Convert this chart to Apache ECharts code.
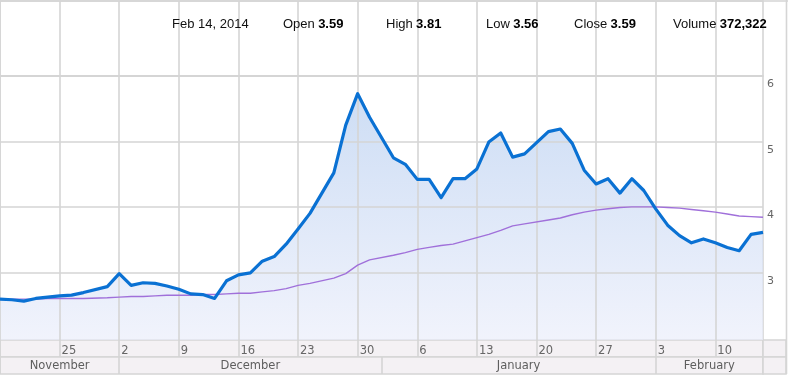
<!DOCTYPE html>
<html><head><meta charset="utf-8">
<script src="https://cdn.jsdelivr.net/npm/echarts/dist/echarts.min.js"></script>
<style>html,body{margin:0;padding:0;background:#fff}#c{width:788px;height:377px}</style>
</head><body><div id="c"></div>
<script>
// ---- data ----
const dates = [
 '2013-11-18','2013-11-19','2013-11-20','2013-11-21','2013-11-22',
 '2013-11-25','2013-11-26','2013-11-27','2013-11-28','2013-11-29',
 '2013-12-02','2013-12-03','2013-12-04','2013-12-05','2013-12-06',
 '2013-12-09','2013-12-10','2013-12-11','2013-12-12','2013-12-13',
 '2013-12-16','2013-12-17','2013-12-18','2013-12-19','2013-12-20',
 '2013-12-23','2013-12-24','2013-12-25','2013-12-26','2013-12-27',
 '2013-12-30','2013-12-31','2014-01-01','2014-01-02','2014-01-03',
 '2014-01-06','2014-01-07','2014-01-08','2014-01-09','2014-01-10',
 '2014-01-13','2014-01-14','2014-01-15','2014-01-16','2014-01-17',
 '2014-01-20','2014-01-21','2014-01-22','2014-01-23','2014-01-24',
 '2014-01-27','2014-01-28','2014-01-29','2014-01-30','2014-01-31',
 '2014-02-03','2014-02-04','2014-02-05','2014-02-06','2014-02-07',
 '2014-02-10','2014-02-11','2014-02-12','2014-02-13','2014-02-14'
];
const closeValues = [
 2.59,2.58,2.56,2.60,2.62, 2.64,2.65,2.69,null,2.78,
 2.98,2.80,2.84,2.83,2.79, 2.74,2.67,2.66,2.60,2.87,
 2.96,2.99,3.17,3.24,3.43, 3.66,3.90,null,4.52,5.25,
 5.73,5.37,null,4.75,4.65, 4.42,4.42,4.14,4.43,4.43,
 4.58,4.99,5.13,4.76,4.81, null,5.15,5.19,4.97,4.56,
 4.35,4.43,4.21,4.43,4.25, 3.97,3.72,3.56,3.45,3.51,
 3.45,3.38,3.33,3.58,3.61
];
const movingAvg = [
 2.59,2.59,2.59,2.59,2.60, 2.60,2.60,2.60,null,2.61,
 2.62,2.63,2.63,2.64,2.65, 2.65,2.65,2.66,2.66,2.67,
 2.68,2.68,2.70,2.72,2.75, 2.80,2.83,null,2.91,2.98,
 3.11,3.19,null,3.26,3.30, 3.35,3.38,3.41,3.43,3.48,
 3.53,3.58,3.64,3.71,3.74, null,3.80,3.83,3.88,3.92,
 3.95,3.97,3.99,4.00,4.00, 4.00,3.99,3.98,3.96,3.94,
 3.92,3.89,3.86,3.85,3.84
];
const yTickValues = [3, 4, 5, 6];
const monthNames = ['November', 'December', 'January', 'February'];
const monthStarts = ['2013-11-18', '2013-12-02', '2014-01-01', '2014-02-03'];
const headerDate = 'Feb 14, 2014';
const headerLabels = ['Open', 'High', 'Low', 'Close', 'Volume'];
const headerValues = ['3.59', '3.81', '3.56', '3.59', '372,322'];

// ---- helpers ----
const GRID = '#d5d5d5';
const ROWBG = '#f4f1f4';
const LABEL_FONT = '"DejaVu Sans", Verdana, sans-serif';
const isMonday = (v) => new Date(v + 'T00:00:00Z').getUTCDay() === 1;
const mondayIdx = (i) => isMonday(dates[i]);
const mondayLabelIdx = (i) => i > 0 && isMonday(dates[i]);
const monthStartIdx = monthStarts.map(d => dates.indexOf(d));
const isMonthStart = (i) => monthStartIdx.indexOf(i) >= 0;
const monthCells = monthNames.map((n, i) => [monthStartIdx[i], i + 1 < monthStartIdx.length ? monthStartIdx[i + 1] : dates.length - 1, 0]);

function catAxis(gridIndex, extra) {
  return Object.assign({
    type: 'category', gridIndex, data: dates, boundaryGap: false,
    axisLine: { show: false }, axisTick: { show: false }, axisLabel: { show: false },
    splitLine: { show: false }
  }, extra);
}
function hiddenY(gridIndex, extra) {
  return Object.assign({
    type: 'value', gridIndex, show: false, splitLine: { show: false }
  }, extra);
}
const gl = { color: GRID, width: 1.6 };

const headerX = [283, 386, 486, 574, 673];
const headerGraphics = [{
  type: 'text', x: 172, y: 24, z: 100,
  style: { text: headerDate, font: '13px "Liberation Sans", Arial, sans-serif', fill: '#111', verticalAlign: 'middle' }
}].concat(headerLabels.map((l, i) => ({
  type: 'text', x: headerX[i], y: 24, z: 100,
  style: {
    text: '{l|' + l + '} {v|' + headerValues[i] + '}', verticalAlign: 'middle',
    rich: {
      l: { font: '13px "Liberation Sans", Arial, sans-serif', fill: '#111' },
      v: { font: 'bold 13px "Liberation Sans", Arial, sans-serif', fill: '#000' }
    }
  }
})));

const chart = echarts.init(document.getElementById('c'), null, { renderer: 'canvas' });
chart.setOption({
  animation: false,
  backgroundColor: '#fff',
  grid: [
    { left: 0, right: 25, top: 1, height: 75, show: true, borderColor: GRID, borderWidth: 1.6, backgroundColor: 'transparent' },
    { left: 0, right: 25, top: 76, bottom: 37, show: true, borderColor: GRID, borderWidth: 1.6, backgroundColor: 'transparent' },
    { left: 0, right: 25, top: 76, bottom: 39.3 },
    { left: 0, right: 25, top: 340, height: 17, show: true, borderColor: GRID, borderWidth: 1.6, backgroundColor: ROWBG },
    { left: 0, right: 25, top: 357, height: 17, show: true, borderColor: GRID, borderWidth: 1.6, backgroundColor: ROWBG }
  ],
  xAxis: [
    catAxis(0, { splitLine: { show: true, interval: mondayIdx, lineStyle: gl } }),
    catAxis(1, { z: 2, splitLine: { show: true, interval: mondayIdx, lineStyle: gl } }),
    catAxis(2, { show: false }),
    catAxis(3, {
      position: 'bottom',
      splitLine: { show: true, interval: mondayIdx, lineStyle: gl },
      axisLabel: {
        show: true, inside: true, interval: mondayLabelIdx, margin: 6, align: 'left', verticalAlign: 'middle',
        padding: [0, 0, 0, 2], color: '#666', fontSize: 11.5, fontFamily: LABEL_FONT,
        formatter: (v) => String(Number(v.slice(8)))
      }
    }),
    catAxis(4, { splitLine: { show: true, interval: isMonthStart, lineStyle: gl } })
  ],
  yAxis: [
    hiddenY(0, { min: 0, max: 1 }),
    hiddenY(1, { min: 1.965, max: 6 }),
    {
      type: 'value', gridIndex: 2, min: 2, max: 6, interval: 1, position: 'right', z: 2,
      axisLine: { show: false }, axisTick: { show: false },
      splitLine: { show: true, showMinLine: false, lineStyle: gl },
      axisLabel: {
        show: true, showMinLabel: false, inside: false, margin: 4, align: 'left', verticalAlign: 'top',
        padding: [3, 0, 0, 0], color: '#666', fontSize: 11, fontFamily: LABEL_FONT,
        formatter: (v) => yTickValues.indexOf(v) >= 0 ? String(v) : ''
      }
    },
    hiddenY(3, { min: 0, max: 1 }),
    hiddenY(4, { min: 0, max: 1 })
  ],
  series: [
    {
      type: 'line', xAxisIndex: 1, yAxisIndex: 1, data: closeValues, z: 1,
      connectNulls: true, symbol: 'none', silent: true,
      lineStyle: { width: 0 },
      areaStyle: {
        origin: 'start',
        color: new echarts.graphic.LinearGradient(0, 0, 0, 1, [
          { offset: 0, color: '#b8cff0' },
          { offset: 1, color: '#ebeefb' }
        ])
      }
    },
    {
      type: 'line', xAxisIndex: 1, yAxisIndex: 1, data: movingAvg, z: 3,
      connectNulls: true, symbol: 'none', silent: true,
      lineStyle: { width: 1.4, color: '#a070da' }
    },
    {
      type: 'line', xAxisIndex: 1, yAxisIndex: 1, data: closeValues, z: 4,
      connectNulls: true, symbol: 'none', silent: true,
      lineStyle: { width: 3.2, color: '#0a71d3', join: 'round' }
    },
    {
      type: 'custom', xAxisIndex: 4, yAxisIndex: 4, data: monthCells, z: 5, silent: true,
      renderItem: (params, api) => {
        const a = api.coord([api.value(0), 0]);
        const b = api.coord([api.value(1), 0]);
        const cs = params.coordSys;
        return {
          type: 'text',
          style: {
            text: monthNames[params.dataIndex], x: (a[0] + b[0]) / 2, y: cs.y + cs.height / 2 + 0.5,
            align: 'center', verticalAlign: 'middle', fill: '#5e5e5e',
            font: '11.5px "DejaVu Sans", Verdana, sans-serif'
          }
        };
      }
    }
  ],
  graphic: [
    { type: 'rect', shape: { x: 763, y: 340, width: 23, height: 17 }, style: { fill: ROWBG, stroke: GRID, lineWidth: 1.6 }, z: 0 },
    { type: 'rect', shape: { x: 763, y: 357, width: 23, height: 17 }, style: { fill: ROWBG, stroke: GRID, lineWidth: 1.6 }, z: 0 },
    { type: 'line', shape: { x1: 786.5, y1: 0, x2: 786.5, y2: 374 }, style: { stroke: GRID, lineWidth: 1.6 }, z: 0 },
    { type: 'line', shape: { x1: 0, y1: 1, x2: 788, y2: 1 }, style: { stroke: GRID, lineWidth: 1.6 }, z: 0 }
  ].concat(headerGraphics)
});
</script></body></html>
